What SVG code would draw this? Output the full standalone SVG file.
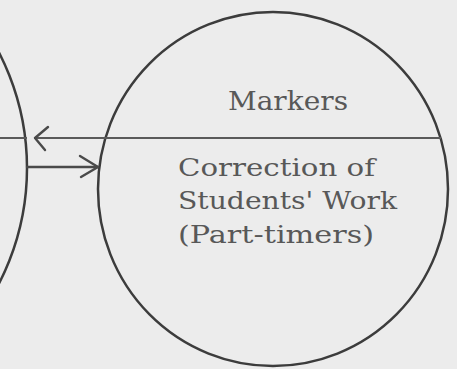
<svg xmlns="http://www.w3.org/2000/svg" width="457" height="369" viewBox="0 0 457 369">
  <style>
    .bg { fill: #ececec; }
    .outline { fill: none; stroke: #3c3c3c; stroke-width: 2.5; }
    .divider { fill: none; stroke: #5a5a5a; stroke-width: 2.2; }
    .conn { fill: none; stroke: #4a4a4a; stroke-width: 2.4; stroke-linecap: round; stroke-linejoin: round; }
    .label { font-family: "DejaVu Serif", "Liberation Serif", serif; fill: #585858; }
  </style>
  <rect class="bg" x="0" y="0" width="457" height="369"/>

  <g id="node-left">
    <circle class="outline" cx="-225" cy="168" r="252"/>
  </g>

  <g id="node-markers">
    <ellipse class="outline" cx="273" cy="189" rx="175" ry="177"/>
    <path class="divider" d="M0,138 H27 M34,138 H441"/>
    <text class="label" x="228" y="110" font-size="26" textLength="120" lengthAdjust="spacingAndGlyphs">Markers</text>
    <text class="label" x="178" y="176" font-size="25" textLength="197" lengthAdjust="spacingAndGlyphs">Correction of</text>
    <text class="label" x="178" y="209" font-size="25" textLength="219" lengthAdjust="spacingAndGlyphs">Students' Work</text>
    <text class="label" x="178" y="243" font-size="25" textLength="196" lengthAdjust="spacingAndGlyphs">(Part-timers)</text>
  </g>

  <g id="connectors">
    <path class="conn" d="M48,127 L35,138 L45,150"/>
    <path class="conn" d="M27,167 H98"/>
    <path class="conn" d="M80,156 L98,167 L81,177"/>
  </g>
</svg>
